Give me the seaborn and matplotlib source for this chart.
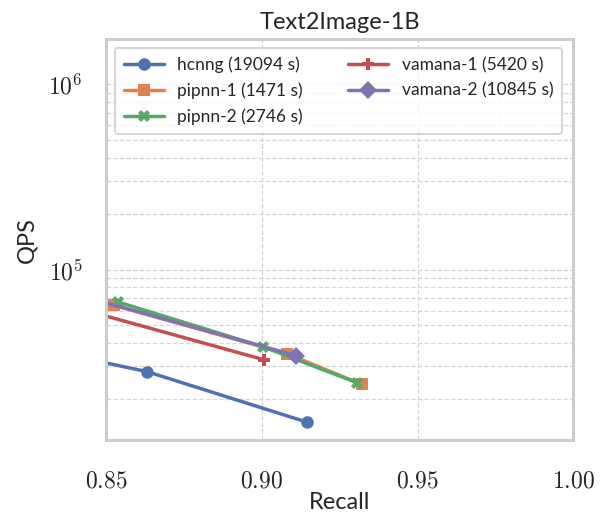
import pandas as pd
import numpy as np
import matplotlib
matplotlib.use('Agg')
import matplotlib.pyplot as plt
import seaborn as sns
from matplotlib.ticker import FixedLocator, LogLocator, NullFormatter

# build configs, with build time in the label
methods = ['hcnng (19094 s)', 'pipnn-1 (1471 s)', 'pipnn-2 (2746 s)',
           'vamana-1 (5420 s)', 'vamana-2 (10845 s)']

hcnng_recall = [0.840, 0.8632, 0.9146]
hcnng_qps = [34000, 28100, 15000]
pipnn1_recall = [0.8526, 0.9081, 0.9322]
pipnn1_qps = [64100, 35100, 24000]
pipnn2_recall = [0.8539, 0.9004, 0.9306]
pipnn2_qps = [66700, 38300, 24500]
vamana1_recall = [0.840, 0.9007]
vamana1_qps = [62400, 32600]
vamana2_recall = [0.840, 0.9110]
vamana2_qps = [73500, 34300]

recalls = [hcnng_recall, pipnn1_recall, pipnn2_recall, vamana1_recall, vamana2_recall]
qpss = [hcnng_qps, pipnn1_qps, pipnn2_qps, vamana1_qps, vamana2_qps]

rows = []
for m, rr, qq in zip(methods, recalls, qpss):
    for r, q in zip(rr, qq):
        rows.append({'method': m, 'recall': r, 'qps': q})
df = pd.DataFrame(rows)

sns.set_theme(style='whitegrid')
plt.rcParams['font.family'] = ['Lato', 'DejaVu Sans']
plt.rcParams['mathtext.fontset'] = 'cm'

fig, ax = plt.subplots(figsize=(6.11, 5.21), dpi=100)
palette = sns.color_palette('deep', 5)
markers = {m: mk for m, mk in zip(methods, ['o', 's', 'X', 'P', 'D'])}
sns.lineplot(data=df, x='recall', y='qps', hue='method', style='method',
             hue_order=methods, style_order=methods, palette=palette,
             markers=markers, dashes=False, sort=False, linewidth=2.5,
             markersize=9, markeredgewidth=0, ax=ax)

ax.set_yscale('log')
ax.set_xlim(0.85, 1.0)
ax.set_ylim(12000, 1.75e6)
ax.set_xticks([0.85, 0.90, 0.95, 1.00])
ax.set_xticklabels(['$0.85$', '$0.90$', '$0.95$', '$1.00$'])
ax.yaxis.set_major_locator(FixedLocator([1e5, 1e6]))
ax.set_yticklabels(['$10^5$', '$10^6$'])
ax.yaxis.set_minor_locator(LogLocator(base=10, subs=np.arange(2, 10)))
ax.yaxis.set_minor_formatter(NullFormatter())
ax.tick_params(axis='x', which='major', labelsize=17, length=0, pad=22)
ax.tick_params(axis='y', which='major', labelsize=17, length=0, pad=17)
ax.tick_params(axis='y', which='minor', length=0)

ax.grid(True, which='major', linestyle='--', color='#d4d4d4', linewidth=0.9)
ax.grid(True, which='minor', axis='y', linestyle='--', color='#d4d4d4', linewidth=0.9)
for s in ax.spines.values():
    s.set_color('#cccccc')
    s.set_linewidth(2.2)

ax.set_title('Text2Image-1B', fontsize=17, pad=7)
ax.set_xlabel('Recall', fontsize=17, labelpad=0)
ax.set_ylabel('QPS', fontsize=17, labelpad=8)

h, l = ax.get_legend_handles_labels()
leg = ax.legend(h, l, loc='upper left', ncol=2, fontsize=12.5, frameon=True,
                handlelength=2.3, columnspacing=2.6, borderpad=0.5,
                labelspacing=0.55, bbox_to_anchor=(0.0, 1.0))
leg.get_frame().set_edgecolor('#cccccc')
leg.get_frame().set_linewidth(1.5)

fig.subplots_adjust(left=0.174, right=0.938, top=0.925, bottom=0.155)
fig.savefig('out.png', dpi=100)
